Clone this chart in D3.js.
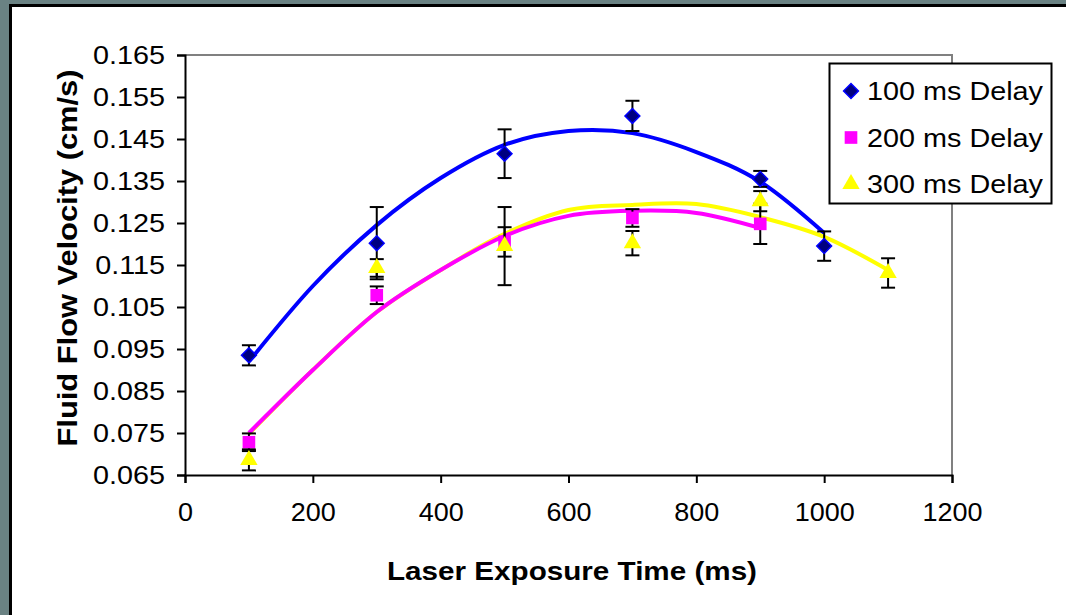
<!DOCTYPE html>
<html>
<head>
<meta charset="utf-8">
<script src="https://cdn.jsdelivr.net/npm/d3@7"></script>
<style>
  html, body { margin: 0; background: #fff; overflow: hidden; }
  svg { display: block; font-family: "Liberation Sans", Arial, sans-serif; }
</style>
</head>
<body>
<svg id="chart" width="1066" height="615"></svg>
<script>
// measured points
const xTicks = [0, 200, 400, 600, 800, 1000, 1200];
const yTicks = [0.065, 0.075, 0.085, 0.095, 0.105, 0.115, 0.125, 0.135, 0.145, 0.155, 0.165];

const x100 = [100, 300, 500, 700, 900, 1000];
const y100 = [0.0935, 0.1202, 0.1415, 0.1505, 0.1355, 0.1195];
const e100 = [0.0024, 0.0086, 0.0058, 0.0036, 0.0019, 0.0035];

const x200 = [100, 300, 500, 700, 900];
const y200 = [0.0728, 0.1078, 0.1205, 0.1262, 0.1248];
const e200 = [0.0021, 0.0021, 0.0035, 0.0021, 0.0048];

const x300 = [100, 300, 500, 700, 900, 1100];
const y300 = [0.0686, 0.1143, 0.1195, 0.1202, 0.1302, 0.1131];
const e300 = [0.0025, 0.0021, 0.0093, 0.0029, 0.0024, 0.0035];

// trendlines, every 100 ms
const trendX100 = [100, 200, 300, 400, 500, 600, 700, 800, 900, 1000];
const trend100 = [0.0920, 0.1100, 0.1245, 0.1357, 0.1436, 0.1469, 0.1464, 0.1419, 0.1348, 0.1226];
const trendX200 = [100, 200, 300, 400, 500, 600, 700, 800, 900];
const trend200 = [0.0750, 0.0900, 0.1038, 0.1138, 0.1219, 0.1267, 0.1279, 0.1274, 0.1238];
const trendX300 = [100, 200, 300, 400, 500, 600, 700, 800, 900, 1000, 1100];
const trend300 = [0.0748, 0.0900, 0.1038, 0.1138, 0.1224, 0.1281, 0.1293, 0.1295, 0.1264, 0.1217, 0.1138];

const seriesNames = ["100 ms Delay", "200 ms Delay", "300 ms Delay"];

function drawChart() {
  const svg = d3.select("#chart");
  const plot = { left: 185, right: 952, top: 55, bottom: 475 };

  // gray page edge (left / top) + black frame of the white panel
  svg.append("path")
    .attr("d", "M0,0H1066V4H9V615H0Z")
    .style("fill", "#6a8283");
  svg.append("path")
    .attr("d", "M10.5,615V5.5H1066")
    .style("fill", "none")
    .style("stroke", "#000")
    .style("stroke-width", 3);

  const x = d3.scaleLinear().domain([0, 1200]).range([plot.left, plot.right]);
  const y = d3.scaleLinear().domain([0.065, 0.165]).range([plot.bottom, plot.top]);

  // stretch text horizontally like the original
  function stretch(sel, k) {
    sel.each(function () {
      const w = this.getComputedTextLength();
      d3.select(this).attr("textLength", w * k).attr("lengthAdjust", "spacingAndGlyphs");
    });
  }

  // gray plot frame (top / right)
  svg.append("path")
    .attr("d", `M${plot.left},${plot.top}H${plot.right}V${plot.bottom}`)
    .style("fill", "none")
    .style("stroke", "#808080")
    .style("stroke-width", 2);

  // Y axis
  const yAxis = svg.append("g")
    .attr("transform", `translate(${plot.left},0)`)
    .call(d3.axisLeft(y).tickValues(yTicks).tickFormat(d3.format(".3f")).tickSize(8).tickPadding(12));
  yAxis.select(".domain").style("stroke-width", 2);
  yAxis.selectAll(".tick line").style("stroke-width", 2);
  yAxis.selectAll("text").style("font-size", "25px").style("fill", "#000").call(stretch, 1.15);

  // X axis
  const xAxis = svg.append("g")
    .attr("transform", `translate(0,${plot.bottom})`)
    .call(d3.axisBottom(x).tickValues(xTicks).tickFormat(d3.format("d")).tickSize(8).tickPadding(20));
  xAxis.select(".domain").style("stroke-width", 2);
  xAxis.selectAll(".tick line").style("stroke-width", 2);
  xAxis.selectAll("text").style("font-size", "25px").style("fill", "#000").call(stretch, 1.08);

  // axis titles
  svg.append("text")
    .attr("x", 572).attr("y", 580)
    .attr("text-anchor", "middle")
    .style("font-size", "26px").style("font-weight", "bold")
    .attr("textLength", 370).attr("lengthAdjust", "spacingAndGlyphs")
    .text("Laser Exposure Time (ms)");

  svg.append("text")
    .attr("transform", "translate(77,258) rotate(-90)")
    .attr("text-anchor", "middle")
    .style("font-size", "28px").style("font-weight", "bold")
    .attr("textLength", 377).attr("lengthAdjust", "spacingAndGlyphs")
    .text("Fluid Flow Velocity (cm/s)");

  // trend lines
  const line = d3.line().curve(d3.curveCardinal).x((d) => x(d[0])).y((d) => y(d[1]));
  const trends = [
    { xs: trendX100, ys: trend100, color: "#0000ff" },
    { xs: trendX300, ys: trend300, color: "#ffff00" },
    { xs: trendX200, ys: trend200, color: "#ff00ff" },
  ];
  trends.forEach((t) => {
    svg.append("path")
      .attr("d", line(d3.zip(t.xs, t.ys)))
      .style("fill", "none")
      .style("stroke", t.color)
      .style("stroke-width", 4);
  });

  const series = [
    { xs: x100, ys: y100, es: e100, shape: "diamond" },
    { xs: x200, ys: y200, es: e200, shape: "square" },
    { xs: x300, ys: y300, es: e300, shape: "triangle" },
  ];

  function marker(g, shape) {
    if (shape === "diamond") {
      g.append("path")
        .attr("d", d3.symbol(d3.symbolSquare, 110)())
        .attr("transform", "rotate(45)")
        .style("fill", "#000080").style("stroke", "#0000ff").style("stroke-width", 1.5);
    } else if (shape === "square") {
      g.append("path")
        .attr("d", d3.symbol(d3.symbolSquare, 160)())
        .style("fill", "#ff00ff");
    } else {
      g.append("path")
        .attr("d", d3.symbol(d3.symbolTriangle, 130)())
        .style("fill", "#ffff00");
    }
  }

  series.forEach((s) => {
    const pts = d3.zip(s.xs, s.ys, s.es);
    const eb = svg.append("g").style("stroke", "#000").style("stroke-width", 2);
    pts.forEach((p) => {
      const cx = x(p[0]);
      const top = y(p[1] + p[2]);
      const bot = y(p[1] - p[2]);
      eb.append("line").attr("x1", cx).attr("x2", cx).attr("y1", top).attr("y2", bot);
      eb.append("line").attr("x1", cx - 7).attr("x2", cx + 7).attr("y1", top).attr("y2", top);
      eb.append("line").attr("x1", cx - 7).attr("x2", cx + 7).attr("y1", bot).attr("y2", bot);
    });
    pts.forEach((p) => {
      const g = svg.append("g").attr("transform", `translate(${x(p[0])},${y(p[1])})`);
      marker(g, s.shape);
    });
  });

  // legend
  const legend = svg.append("g");
  legend.append("rect")
    .attr("x", 829.5).attr("y", 63.5)
    .attr("width", 222).attr("height", 140)
    .style("fill", "#fff").style("stroke", "#000").style("stroke-width", 2);
  seriesNames.forEach((name, i) => {
    const cy = 91 + i * 46.5;
    const g = legend.append("g").attr("transform", `translate(851,${cy})`);
    marker(g, series[i].shape);
    legend.append("text")
      .attr("x", 867).attr("y", cy + 9)
      .style("font-size", "25px")
      .attr("textLength", 176).attr("lengthAdjust", "spacingAndGlyphs")
      .text(name);
  });
}

drawChart();
</script>
</body>
</html>
